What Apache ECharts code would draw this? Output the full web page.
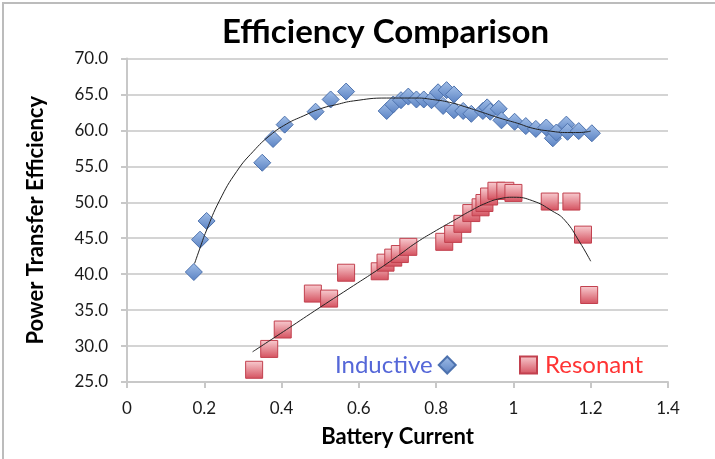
<!DOCTYPE html>
<html>
<head>
<meta charset="utf-8">
<script src="https://cdn.jsdelivr.net/npm/echarts@6.0.0/dist/echarts.min.js"></script>
<style>
    html, body { margin: 0; padding: 0; background: #fff; }
    #chart { width: 715px; height: 459px; }
</style>
</head>
<body>
<div id="chart"></div>
<script>
    var inductiveCurrent = [0.173, 0.189, 0.206, 0.350, 0.378, 0.408, 0.488, 0.527, 0.567, 0.672,
        0.689, 0.709, 0.728, 0.749, 0.768, 0.788, 0.805, 0.827, 0.846, 0.818,
        0.846, 0.870, 0.891, 0.921, 0.932, 0.940, 0.962, 0.969, 1.003, 1.032,
        1.058, 1.085, 1.102, 1.111, 1.137, 1.140, 1.169, 1.203];
    var inductiveEff = [40.3, 44.8, 47.4, 55.5, 58.8, 60.8, 62.6, 64.3, 65.4, 62.7,
        63.6, 64.2, 64.7, 64.3, 64.3, 64.2, 65.3, 65.6, 65.0, 63.4,
        62.8, 62.7, 62.3, 62.7, 63.2, 62.6, 63.0, 61.4, 61.2, 60.6,
        60.2, 60.4, 58.9, 59.7, 60.8, 59.8, 59.9, 59.6];

    var resonantCurrent = [0.329, 0.368, 0.403, 0.481, 0.523, 0.567, 0.654, 0.669, 0.689, 0.706,
        0.728, 0.821, 0.844, 0.868, 0.891, 0.915, 0.925, 0.937, 0.956, 0.979,
        1.000, 1.094, 1.150, 1.180, 1.196];
    var resonantEff = [26.7, 29.6, 32.3, 37.3, 36.6, 40.2, 40.4, 41.6, 42.3, 42.8,
        43.8, 44.5, 45.6, 47.0, 48.5, 49.3, 49.9, 50.8, 51.6, 51.6,
        51.3, 50.1, 50.1, 45.5, 37.1];

    // trend lines as drawn in the picture
    var inductiveTrendX = [0.175, 0.19, 0.205, 0.24, 0.284, 0.327, 0.37, 0.413, 0.456, 0.5,
        0.543, 0.586, 0.672, 0.75, 0.79, 0.835, 0.88, 0.92, 0.965, 1.01,
        1.05, 1.095, 1.14, 1.17, 1.2];
    var inductiveTrendY = [41.5, 43.8, 46.0, 50.3, 54.3, 57.1, 59.3, 60.9, 62.0, 63.0,
        63.6, 64.1, 64.5, 64.5, 64.3, 63.9, 63.2, 62.5, 61.7, 61.0,
        60.3, 59.9, 59.7, 59.7, 59.9];

    var resonantTrendX = [0.325, 0.413, 0.5, 0.586, 0.646, 0.7, 0.749, 0.801, 0.853, 0.887,
        0.93, 0.965, 1.0, 1.05, 1.1, 1.133, 1.171, 1.2];
    var resonantTrendY = [29.2, 32.3, 35.4, 38.4, 40.5, 42.5, 44.4, 46.1, 47.7, 48.75,
        49.9, 50.5, 50.7, 50.2, 48.8, 47.5, 44.5, 41.8];

    var yTicks = { min: 25, max: 70, interval: 5 };
    var xTicks = { min: 0, max: 1.4, interval: 0.2 };

    function toPoints(xs, ys) {
        var out = [];
        for (var i = 0; i < xs.length; i++) {
            out.push([xs[i], ys[i]]);
        }
        return out;
    }

    var fontName = "Lato";

    var blueFill = {
        type: "linear", x: 0, y: 0, x2: 0, y2: 1,
        colorStops: [{offset: 0, color: "#a2bfe8"}, {offset: 1, color: "#5a82c3"}]
    };
    var redFill = {
        type: "linear", x: 0, y: 0, x2: 0, y2: 1,
        colorStops: [{offset: 0, color: "#f8cdd1"}, {offset: 1, color: "#d4505e"}]
    };

    var chart = echarts.init(document.getElementById("chart"), null, {renderer: "canvas"});

    var option = {
        animation: false,
        backgroundColor: "#fff",
        textStyle: {fontFamily: fontName},
        title: {
            text: "Efficiency Comparison",
            left: 217,
            top: 11,
            textStyle: {fontFamily: fontName, fontSize: 33, fontWeight: "bold", color: "#000"}
        },
        graphic: [{
            type: "rect",
            shape: {x: 3, y: 3, width: 800, height: 600},
            style: {fill: null, stroke: "#bcbcbc", lineWidth: 2},
            silent: true
        }],
        grid: {left: 127, right: 47, top: 58.5, bottom: 77},
        legend: [{
            data: [{name: "Inductive", textStyle: {color: "#5567d8"}}],
            align: "right",
            left: 335,
            top: 353,
            padding: 0,
            itemWidth: 17,
            itemHeight: 17,
            textStyle: {fontFamily: fontName, fontSize: 24, padding: [0, 1, 0, 0]}
        }, {
            data: [{name: "Resonant", textStyle: {color: "#ff3434"}}],
            align: "left",
            left: 519,
            top: 353,
            padding: 0,
            itemWidth: 17,
            itemHeight: 17,
            textStyle: {fontFamily: fontName, fontSize: 24, padding: [0, 0, 0, 3]}
        }],
        xAxis: {
            type: "value",
            min: xTicks.min,
            max: xTicks.max,
            interval: xTicks.interval,
            name: "Battery Current",
            nameLocation: "middle",
            nameGap: 44,
            nameTextStyle: {fontFamily: fontName, fontSize: 22, fontWeight: "bold", color: "#000"},
            axisLine: {show: true, lineStyle: {color: "#c8c8c8", width: 2}},
            axisTick: {show: true, length: 6, lineStyle: {color: "#c8c8c8", width: 2}},
            axisLabel: {fontFamily: fontName, fontSize: 17, color: "#1a1a1a", margin: 18},
            splitLine: {show: false}
        },
        yAxis: {
            type: "value",
            min: yTicks.min,
            max: yTicks.max,
            interval: yTicks.interval,
            name: "Power Transfer Efficiency",
            nameLocation: "middle",
            nameGap: 80,
            nameTextStyle: {fontFamily: fontName, fontSize: 22, fontWeight: "bold", color: "#000"},
            axisLine: {show: true, lineStyle: {color: "#c8c8c8", width: 2}},
            axisTick: {show: true, length: 6, lineStyle: {color: "#c8c8c8", width: 2}},
            axisLabel: {
                fontFamily: fontName, fontSize: 17, color: "#1a1a1a", margin: 19,
                formatter: function (v) { return v.toFixed(1); }
            },
            splitLine: {show: true, lineStyle: {color: "#d4d4d4", width: 2}}
        },
        series: [{
            name: "Inductive",
            type: "scatter",
            symbol: "diamond",
            symbolSize: 17,
            data: toPoints(inductiveCurrent, inductiveEff),
            itemStyle: {color: blueFill, borderColor: "#4d72ae", borderWidth: 1, opacity: 1},
            z: 2
        }, {
            name: "Resonant",
            type: "scatter",
            symbol: "rect",
            symbolSize: 17,
            data: toPoints(resonantCurrent, resonantEff),
            itemStyle: {color: redFill, borderColor: "#c2404e", borderWidth: 1, opacity: 1},
            z: 2
        }, {
            name: "Inductive trend",
            type: "line",
            data: toPoints(inductiveTrendX, inductiveTrendY),
            smooth: true,
            showSymbol: false,
            symbol: "none",
            silent: true,
            lineStyle: {color: "#222", width: 1},
            z: 3
        }, {
            name: "Resonant trend",
            type: "line",
            data: toPoints(resonantTrendX, resonantTrendY),
            smooth: true,
            showSymbol: false,
            symbol: "none",
            silent: true,
            lineStyle: {color: "#222", width: 1},
            z: 3
        }]
    };

    chart.setOption(option);
</script>
</body>
</html>
